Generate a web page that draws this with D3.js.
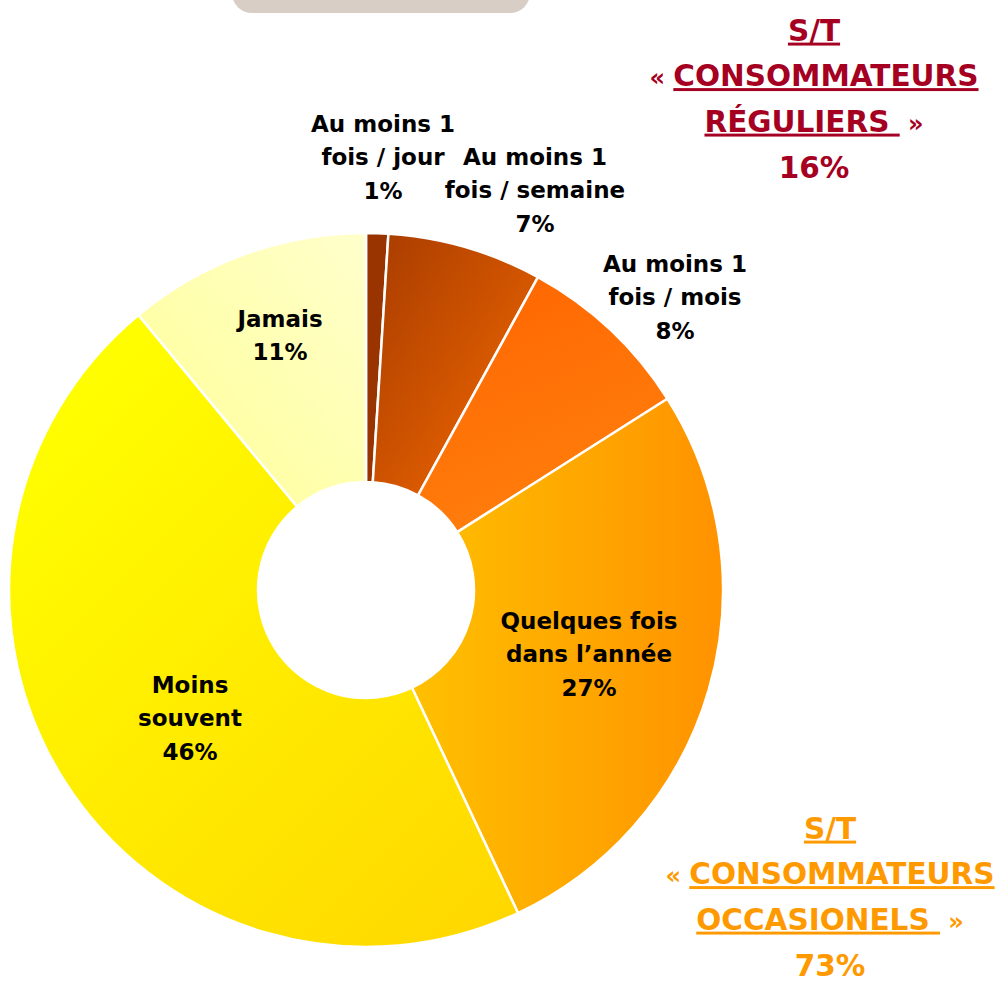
<!DOCTYPE html>
<html>
<head>
<meta charset="utf-8">
<script src="https://cdn.jsdelivr.net/npm/d3@7"></script>
<style>
  body { margin: 0; background: #fff; }
  svg { display: block; font-family: "DejaVu Sans", sans-serif; font-weight: bold; }
</style>
</head>
<body>
<div id="chart"></div>
<script>
const W = 1001, H = 985

// data
const categories = ["Au moins 1 fois / jour", "Au moins 1 fois / semaine", "Au moins 1 fois / mois",
                    "Quelques fois dans l\u2019année", "Moins souvent", "Jamais"]
const values = [1, 7, 8, 27, 46, 11]
const labelLines = [
  ["Au moins 1", "fois / jour", "1%"],
  ["Au moins 1", "fois / semaine", "7%"],
  ["Au moins 1", "fois / mois", "8%"],
  ["Quelques fois", "dans l\u2019année", "27%"],
  ["Moins", "souvent", "46%"],
  ["Jamais", "11%"]
]
const subtotals = [
  {title: "S/T", pre: "\u00ab ", line1: "CONSOMMATEURS", line2: "RÉGULIERS\u00a0", post: " \u00bb", value: "16%"},
  {title: "S/T", pre: "\u00ab ", line1: "CONSOMMATEURS", line2: "OCCASIONELS\u00a0", post: " \u00bb", value: "73%"}
]

// styles
const gradStops = [
  ["#993300", "#993300"],
  ["#a83c00", "#f56a00"],
  ["#ff6400", "#ff7e0c"],
  ["#ffc000", "#ff9200"],
  ["#ffff00", "#ffd600"],
  ["#ffffcc", "#ffff94"]
]
const gradDir = [
  [0, 0, 1, 1], [0, 0, 1, 1], [0, 0, 0.4, 1], [0, 0, 1, 0], [0.2, 0, 1, 1], [1, 0, 0, 1]
]
// label anchors relative to pie centre (centre of text block)
const labelAt = [[17, -433], [169, -400], [309, -293], [223, 64], [-176, 128], [-86, -255]]
const stColors = ["#a50021", "#ff9900"]
const stPos = [{cx: 814, y: 30}, {cx: 830, y: 828}]

const cx = 366, cy = 590, R = 357, r0 = 108

const svg = d3.select("#chart").append("svg")
    .attr("width", W).attr("height", H)

// greyish tab at the top
svg.append("rect")
    .attr("x", 232).attr("y", -40)
    .attr("width", 298).attr("height", 53)
    .attr("rx", 20)
    .attr("fill", "#d8cec5")

const pie = d3.pie().sort(null).value(d => d)
const arcs = pie(values)
const arc = d3.arc().innerRadius(r0).outerRadius(R)

const defs = svg.append("defs")
arcs.forEach((a, i) => {
  const g = defs.append("linearGradient")
      .attr("id", "g" + i)
      .attr("x1", gradDir[i][0]).attr("y1", gradDir[i][1])
      .attr("x2", gradDir[i][2]).attr("y2", gradDir[i][3])
  g.append("stop").attr("offset", 0).attr("stop-color", gradStops[i][0])
  g.append("stop").attr("offset", 1).attr("stop-color", gradStops[i][1])
})

const gPie = svg.append("g").attr("transform", `translate(${cx},${cy})`)

gPie.selectAll("path.slice")
  .data(arcs).enter()
  .append("path")
    .attr("class", "slice")
    .attr("d", arc)
    .attr("fill", (d, i) => `url(#g${i})`)
    .attr("stroke", "#fff")
    .attr("stroke-width", 2.5)
    .attr("stroke-linejoin", "round")

const fs = 23, lh = 33.5
const labels = gPie.selectAll("text.lab")
  .data(arcs).enter()
  .append("text")
    .attr("class", "lab")
    .attr("text-anchor", "middle")
    .attr("font-size", fs)
    .attr("fill", "#000")

labels.each(function(d, i) {
  const lines = labelLines[i]
  const [lx, ly] = labelAt[i]
  const top = ly - (lines.length - 1) * lh / 2
  d3.select(this).selectAll("tspan")
    .data(lines).enter()
    .append("tspan")
      .attr("x", lx)
      .attr("y", (t, j) => top + j * lh)
      .attr("dy", "0.36em")
      .text(t => t)
})

// sub-total annotations
subtotals.forEach((s, k) => {
  const g = svg.append("g").attr("fill", stColors[k])
  const p = stPos[k]
  const sh = 45.5
  const mk = (y) => g.append("text")
      .attr("x", p.cx).attr("y", p.y + y)
      .attr("dy", "0.36em")
      .attr("text-anchor", "middle")
      .attr("font-size", 29.5)
  mk(0).append("tspan").attr("text-decoration", "underline").text(s.title)
  const t1 = mk(sh)
  t1.append("tspan").attr("font-size", 24).text(s.pre)
  t1.append("tspan").attr("text-decoration", "underline").text(s.line1)
  const t2 = mk(2 * sh)
  t2.append("tspan").attr("text-decoration", "underline").text(s.line2)
  t2.append("tspan").attr("font-size", 24).text(s.post)
  mk(3 * sh + 1).text(s.value)
})
</script>
</body>
</html>
